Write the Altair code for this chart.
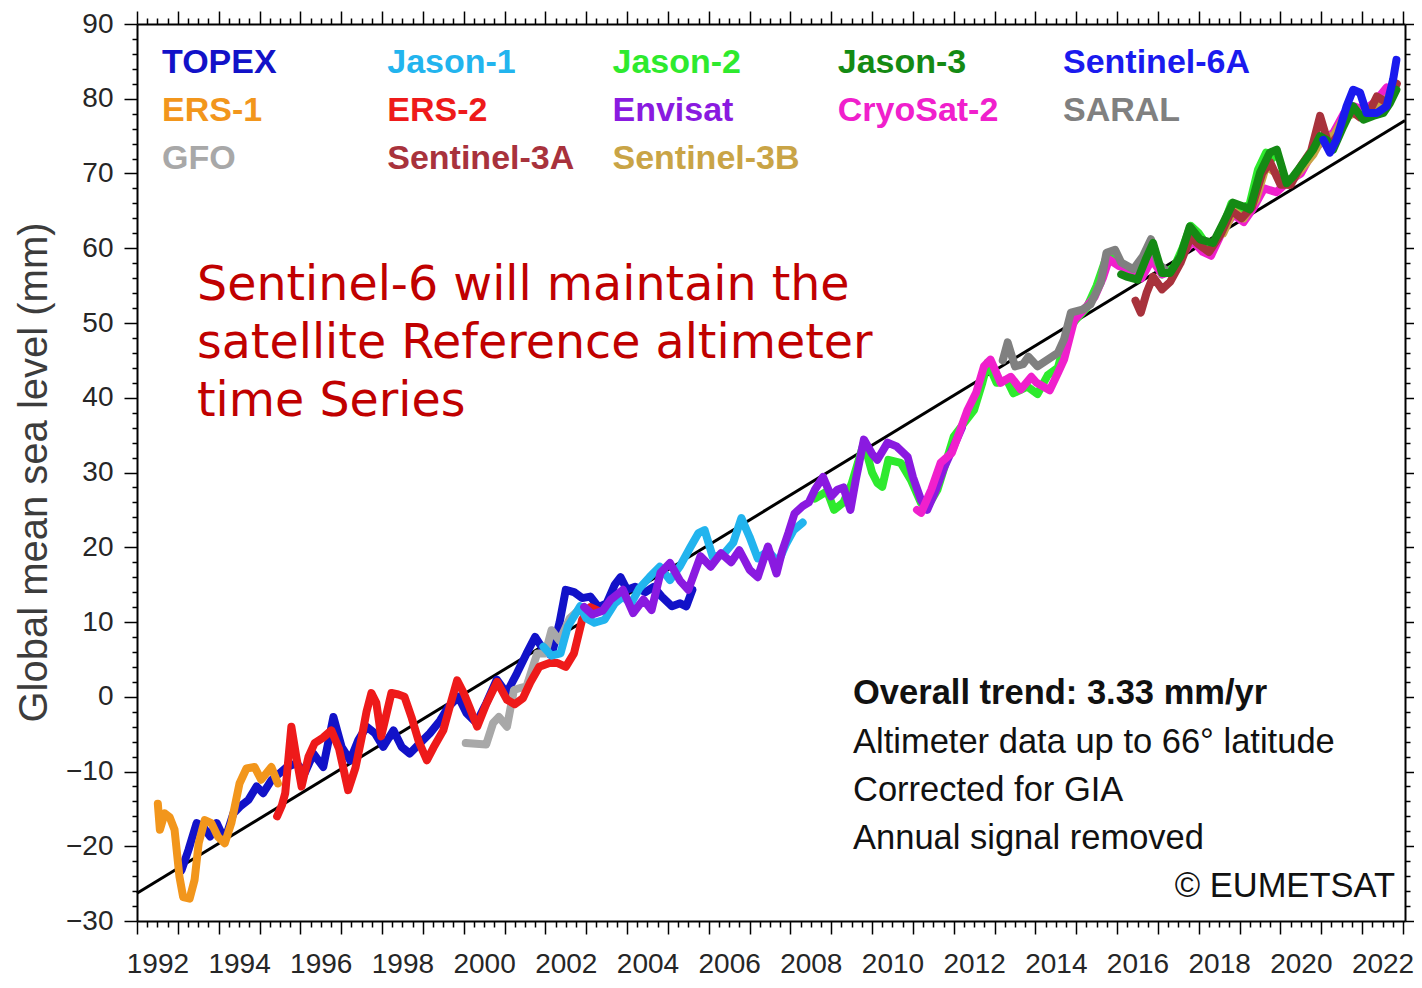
import altair as alt
import pandas as pd

# ---------------- data ----------------
TOPEX = [(1993.09, -23.2), (1993.26, -20.5), (1993.46, -16.9), (1993.62, -17.4), (1993.79, -18.7),
         (1993.95, -16.9), (1994.15, -19.2), (1994.36, -15.6), (1994.52, -14.7), (1994.73, -13.8),
         (1994.93, -12.0), (1995.09, -12.9), (1995.30, -11.1), (1995.50, -10.2), (1995.67, -9.4),
         (1995.91, -8.9), (1996.11, -10.2), (1996.32, -7.6), (1996.56, -9.4), (1996.81, -2.7),
         (1997.01, -6.7), (1997.22, -8.5), (1997.42, -5.8), (1997.62, -4.0), (1997.83, -4.9),
         (1998.03, -6.7), (1998.28, -4.5), (1998.48, -6.7), (1998.68, -7.6), (1998.93, -6.2),
         (1999.17, -4.9), (1999.42, -3.2), (1999.62, -1.4), (1999.87, 0.0), (2000.07, -2.2),
         (2000.31, -3.5), (2000.56, -0.8), (2000.81, 2.3), (2001.05, 0.5), (2001.30, 3.1),
         (2001.54, 5.8), (2001.75, 8.0), (2001.95, 6.3), (2002.15, 5.5), (2002.35, 10.0),
         (2002.50, 14.3), (2002.70, 14.0), (2002.90, 13.2), (2003.10, 13.4), (2003.30, 12.0),
         (2003.50, 12.5), (2003.70, 15.0), (2003.84, 16.0), (2004.00, 14.3), (2004.20, 14.7),
         (2004.45, 14.0), (2004.65, 14.7), (2004.85, 13.4), (2005.10, 12.1), (2005.30, 12.5),
         (2005.45, 12.1), (2005.60, 14.3)]

ERS1 = [(1992.51, -14.3), (1992.56, -17.8), (1992.68, -15.6), (1992.80, -16.1), (1992.92, -17.8),
        (1993.04, -24.1), (1993.13, -26.8), (1993.29, -27.0), (1993.41, -24.5), (1993.51, -19.6),
        (1993.66, -16.5), (1993.82, -16.9), (1993.98, -18.7), (1994.15, -19.6), (1994.31, -16.9),
        (1994.51, -11.6), (1994.68, -9.6), (1994.88, -9.4), (1995.04, -11.1), (1995.29, -9.4),
        (1995.45, -11.6)]

ERS2 = [(1995.43, -16.0), (1995.55, -14.5), (1995.63, -12.9), (1995.78, -4.0), (1995.90, -8.0),
        (1996.03, -12.0), (1996.20, -8.0), (1996.35, -6.2), (1996.55, -5.5), (1996.76, -4.5),
        (1996.95, -7.0), (1997.17, -12.5), (1997.35, -9.5), (1997.50, -5.5), (1997.62, -2.0),
        (1997.74, 0.5), (1997.86, -0.8), (1997.98, -5.3), (1998.23, 0.5), (1998.40, 0.3),
        (1998.55, 0.0), (1998.72, -2.7), (1998.90, -6.0), (1999.10, -8.5), (1999.26, -6.8),
        (1999.50, -4.5), (1999.70, -0.5), (1999.84, 2.2), (2000.00, 0.5), (2000.15, -1.5),
        (2000.33, -4.0), (2000.55, -1.0), (2000.82, 2.0), (2001.06, -0.4), (2001.25, -1.0),
        (2001.45, -0.2), (2001.63, 1.9), (2001.85, 4.0), (2002.10, 4.5), (2002.30, 4.5),
        (2002.50, 4.0), (2002.70, 5.8), (2002.90, 10.3), (2003.10, 12.0), (2003.30, 11.5)]

GFO = [(2000.05, -6.2), (2000.30, -6.3), (2000.55, -6.4), (2000.72, -3.5), (2000.86, -2.7),
       (2001.06, -4.0), (2001.23, 0.9), (2001.40, 1.2), (2001.54, 1.4), (2001.80, 5.8),
       (2002.00, 5.8), (2002.15, 8.9), (2002.35, 7.5), (2002.60, 10.5), (2002.90, 12.0),
       (2003.20, 11.6)]

JASON1 = [(2001.95, 6.7), (2002.15, 5.5), (2002.37, 5.8), (2002.55, 9.4), (2002.85, 12.1),
          (2003.00, 10.5), (2003.20, 9.9), (2003.45, 10.3), (2003.70, 12.5), (2003.90, 13.4),
          (2004.10, 12.5), (2004.30, 14.5), (2004.55, 16.0), (2004.80, 17.4), (2005.05, 15.6),
          (2005.30, 17.5), (2005.55, 20.0), (2005.75, 21.9), (2005.90, 22.3), (2006.10, 18.7),
          (2006.35, 19.0), (2006.60, 20.6), (2006.80, 23.9), (2007.00, 21.4), (2007.20, 18.5),
          (2007.45, 19.5), (2007.70, 18.0), (2007.90, 20.5), (2008.08, 22.3), (2008.30, 23.3)]

ENVISAT = [(2002.95, 12.0), (2003.15, 11.0), (2003.40, 11.5), (2003.60, 13.0), (2003.90, 14.3),
           (2004.15, 11.2), (2004.40, 13.0), (2004.60, 11.6), (2004.82, 16.6), (2005.05, 17.9),
           (2005.30, 15.5), (2005.50, 14.3), (2005.80, 18.8), (2006.05, 17.4), (2006.30, 19.2),
           (2006.55, 18.0), (2006.75, 19.6), (2007.00, 17.0), (2007.20, 16.0), (2007.45, 20.1),
           (2007.66, 16.5), (2007.80, 19.5), (2007.95, 21.9), (2008.10, 24.5), (2008.30, 25.5),
           (2008.45, 26.0), (2008.60, 27.7), (2008.80, 29.4), (2009.00, 26.8), (2009.15, 27.7),
           (2009.30, 28.0), (2009.47, 25.0), (2009.60, 29.0), (2009.80, 34.4), (2010.00, 32.5),
           (2010.13, 31.7), (2010.38, 34.0), (2010.60, 33.5), (2010.87, 32.1), (2011.00, 29.4),
           (2011.20, 26.3), (2011.35, 25.0), (2011.55, 27.5), (2011.75, 30.5), (2012.00, 33.5),
           (2012.20, 36.0)]

JASON2 = [(2008.60, 26.5), (2008.90, 27.5), (2009.07, 25.0), (2009.30, 26.0), (2009.50, 28.5),
          (2009.80, 34.0), (2010.00, 30.0), (2010.13, 28.6), (2010.25, 28.1), (2010.40, 31.7),
          (2010.70, 31.3), (2010.95, 29.0), (2011.20, 25.9), (2011.36, 25.4), (2011.60, 27.7),
          (2011.85, 32.1), (2012.00, 34.8), (2012.25, 36.6), (2012.50, 38.4), (2012.70, 42.0),
          (2012.83, 44.7), (2013.05, 42.0), (2013.30, 42.4), (2013.46, 40.6), (2013.80, 41.5),
          (2014.05, 40.5), (2014.30, 43.0), (2014.55, 44.0), (2014.80, 49.0), (2015.00, 50.5),
          (2015.25, 52.0), (2015.50, 55.0), (2015.75, 59.0), (2016.00, 58.5), (2016.25, 57.0),
          (2016.50, 57.5), (2016.85, 60.5), (2017.10, 56.5), (2017.40, 57.5), (2017.60, 60.0),
          (2017.80, 63.0), (2018.00, 62.0), (2018.25, 60.0), (2018.50, 61.5), (2018.80, 66.0),
          (2019.00, 65.0), (2019.25, 66.0), (2019.45, 70.5), (2019.65, 72.8), (2019.80, 72.0)]

CRYOSAT2 = [(2011.10, 25.0), (2011.20, 24.6), (2011.45, 27.7), (2011.68, 31.3), (2011.95, 32.6),
            (2012.10, 34.8), (2012.34, 38.4), (2012.55, 40.7), (2012.74, 44.2), (2012.90, 45.1),
            (2013.15, 42.0), (2013.40, 42.8), (2013.64, 41.1), (2013.90, 42.8), (2014.03, 42.0),
            (2014.35, 41.0), (2014.55, 43.3), (2014.70, 45.1), (2014.95, 50.4), (2015.25, 52.2),
            (2015.45, 53.5), (2015.65, 56.0), (2015.80, 58.5), (2016.05, 57.6), (2016.30, 57.2),
            (2016.60, 56.0), (2016.85, 58.5), (2017.10, 56.5), (2017.40, 57.0), (2017.65, 59.5),
            (2017.85, 61.0), (2018.10, 59.5), (2018.30, 59.0), (2018.60, 62.5), (2018.85, 64.5),
            (2019.10, 63.5), (2019.35, 65.5), (2019.60, 68.0), (2019.90, 67.5), (2020.20, 69.0),
            (2020.50, 70.0), (2020.80, 73.0), (2021.05, 74.5), (2021.30, 75.5), (2021.55, 78.0),
            (2021.80, 79.0), (2022.05, 78.5), (2022.30, 79.5), (2022.60, 81.5)]

SARAL = [(2013.20, 45.0), (2013.32, 47.4), (2013.50, 44.2), (2013.70, 44.5), (2013.83, 45.5),
         (2014.05, 44.2), (2014.30, 45.1), (2014.55, 46.0), (2014.70, 47.8), (2014.87, 51.4),
         (2015.15, 51.8), (2015.35, 52.5), (2015.60, 55.4), (2015.74, 59.4), (2015.95, 59.8),
         (2016.10, 58.1), (2016.40, 57.2), (2016.63, 58.9), (2016.83, 61.2), (2017.00, 58.0),
         (2017.20, 57.0)]

SENTINEL3A = [(2016.45, 53.0), (2016.58, 51.4), (2016.72, 54.0), (2016.88, 56.2), (2017.10, 54.5),
              (2017.30, 55.5), (2017.55, 58.0), (2017.80, 61.5), (2018.00, 60.5), (2018.25, 59.5),
              (2018.55, 62.0), (2018.80, 65.0), (2019.05, 64.0), (2019.30, 65.5), (2019.55, 70.0),
              (2019.75, 71.5), (2020.00, 68.5), (2020.25, 68.5), (2020.50, 71.0), (2020.75, 73.0),
              (2020.97, 77.7), (2021.20, 73.5), (2021.45, 75.5), (2021.70, 78.5), (2021.95, 77.5),
              (2022.20, 78.5), (2022.36, 80.3), (2022.60, 79.5), (2022.85, 82.0)]

SENTINEL3B = [(2018.60, 62.0), (2018.85, 65.0), (2019.10, 64.0), (2019.40, 66.5), (2019.65, 71.0),
              (2019.90, 70.0), (2020.20, 68.5), (2020.50, 70.5), (2020.80, 72.5), (2021.05, 75.0),
              (2021.30, 75.0), (2021.55, 77.5), (2021.80, 78.0), (2022.10, 78.0), (2022.40, 79.0),
              (2022.70, 80.5)]

JASON3 = [(2016.10, 56.5), (2016.23, 56.2), (2016.50, 55.8), (2016.70, 58.5), (2016.88, 60.7),
          (2017.10, 56.7), (2017.30, 56.7), (2017.55, 58.9), (2017.78, 62.9), (2018.03, 61.2),
          (2018.35, 60.7), (2018.60, 63.4), (2018.84, 66.1), (2019.09, 65.6), (2019.25, 65.2),
          (2019.50, 70.1), (2019.74, 72.8), (2019.91, 73.2), (2020.15, 68.7), (2020.31, 69.6),
          (2020.56, 71.4), (2020.80, 73.2), (2020.97, 75.0), (2021.13, 74.5), (2021.29, 73.2),
          (2021.54, 76.3), (2021.78, 79.0), (2022.03, 77.2), (2022.27, 77.7), (2022.52, 78.1),
          (2022.68, 79.4), (2022.84, 81.2)]

SENTINEL6A = [(2021.05, 74.5), (2021.21, 72.8), (2021.37, 74.5), (2021.62, 79.0), (2021.78, 81.2),
              (2021.95, 80.8), (2022.11, 78.1), (2022.36, 78.1), (2022.60, 79.0), (2022.76, 82.6),
              (2022.84, 85.2)]

TREND = [(1992.0, -26.3), (2023.05, 77.1)]

SERIES = {
    "TOPEX": TOPEX, "ERS-1": ERS1, "ERS-2": ERS2, "GFO": GFO, "Jason-1": JASON1,
    "Envisat": ENVISAT, "Jason-2": JASON2, "CryoSat-2": CRYOSAT2, "SARAL": SARAL,
    "Sentinel-3A": SENTINEL3A, "Sentinel-3B": SENTINEL3B, "Jason-3": JASON3,
    "Sentinel-6A": SENTINEL6A,
}
COLORS = {
    "TOPEX": "#1212c8", "Jason-1": "#22b4ee", "Jason-2": "#2eea2e", "Jason-3": "#148a14",
    "Sentinel-6A": "#1a1aee", "ERS-1": "#f2961c", "ERS-2": "#ee1a1a", "Envisat": "#8a1ae0",
    "CryoSat-2": "#f020cc", "SARAL": "#808080", "GFO": "#a8a8a8", "Sentinel-3A": "#a8323c",
    "Sentinel-3B": "#c9a446",
}
DRAW_ORDER = ["TOPEX", "GFO", "ERS-1", "ERS-2", "Jason-1", "Jason-2", "Envisat", "CryoSat-2",
              "SARAL", "Sentinel-3B", "Sentinel-3A", "Jason-3", "Sentinel-6A"]
LEGEND_ORDER = ["TOPEX", "Jason-1", "Jason-2", "Jason-3", "Sentinel-6A",
                "ERS-1", "ERS-2", "Envisat", "CryoSat-2", "SARAL",
                "GFO", "Sentinel-3A", "Sentinel-3B"]

RED_NOTE = "Sentinel-6 will maintain the\nsatellite Reference altimeter\ntime Series"
INFO_BOLD = "Overall trend: 3.33 mm/yr"
INFO_LINES = "Altimeter data up to 66\u00b0 latitude\nCorrected for GIA\nAnnual signal removed"
COPYRIGHT = "\u00a9 EUMETSAT"
Y_TITLE = "Global mean sea level (mm)"

X_TICKS = [1992 + 0.25 * k for k in range(125)]
Y_TICKS = list(range(-30, 91, 2))

# ---------------- tables ----------------
rows = []
for name, pts in SERIES.items():
    for t, v in pts:
        rows.append({"series": name, "t": t, "v": v})
df = pd.DataFrame(rows)
trend_df = pd.DataFrame(TREND, columns=["t", "v"])
legend_df = pd.DataFrame({
    "name": LEGEND_ORDER,
    "color": [COLORS[n] for n in LEGEND_ORDER],
    "col": [i % 5 for i in range(len(LEGEND_ORDER))],
    "row": [i // 5 for i in range(len(LEGEND_ORDER))],
})

FONT = "Liberation Sans, Arial, Helvetica, sans-serif"

xscale = alt.Scale(domain=[1992, 2023.05], nice=False, zero=False)
yscale = alt.Scale(domain=[-30, 90], nice=False, zero=False)


def xaxis(orient, labels):
    return alt.Axis(
        orient=orient, values=X_TICKS, labels=labels, grid=False, title=None,
        labelExpr="datum.value % 2 === 0 ? format(datum.value, 'd') : ''",
        labelOffset=20.4, labelFlush=False, labelOverlap=False, labelBound=False,
        labelFont=FONT, labelFontSize=28, labelColor="#262626", labelPadding=16,
        tickSize={"condition": {"test": "datum.value % 1 === 0", "value": 13}, "value": 6},
        tickColor="black", tickWidth=1.5, domainColor="black", domainWidth=2,
    )


def yaxis(orient, labels, title=None):
    if title:
        kw = dict(title=title, titleFont=FONT, titleFontSize=40,
                  titleFontWeight="normal", titleColor="#3c3c3c", titleAngle=270,
                  titleX=-103, titleY=448, titleBaseline="middle", titleAlign="center")
    else:
        kw = dict(title=None)
    return alt.Axis(
        orient=orient, values=Y_TICKS, labels=labels, grid=False,
        labelExpr="datum.value % 10 === 0 ? format(datum.value, 'd') : ''",
        labelFlush=False, labelOverlap=False, labelBound=False,
        labelFont=FONT, labelFontSize=28, labelColor="#262626", labelPadding=11,
        tickSize={"condition": {"test": "datum.value % 10 === 0", "value": 13}, "value": 5},
        tickColor="black", tickWidth=1.5, domainColor="black", domainWidth=2,
        **kw,
    )


trend = alt.Chart(trend_df).mark_line(color="black", strokeWidth=3).encode(
    x=alt.X("t:Q", scale=xscale, axis=xaxis("bottom", True)),
    y=alt.Y("v:Q", scale=yscale, axis=yaxis("left", True, Y_TITLE)),
)

series_layers = []
for i, name in enumerate(DRAW_ORDER):
    if i == 0:
        ax_x, ax_y = xaxis("top", False), yaxis("right", False)
    else:
        ax_x, ax_y = None, None
    series_layers.append(
        alt.Chart(df).transform_filter(alt.datum.series == name)
        .mark_line(color=COLORS[name], strokeWidth=8, strokeJoin="round", strokeCap="round")
        .encode(
            x=alt.X("t:Q", scale=xscale, axis=ax_x),
            y=alt.Y("v:Q", scale=yscale, axis=ax_y),
            order="t:Q",
        )
    )

red_note = alt.Chart(pd.DataFrame({"txt": [RED_NOTE]})).mark_text(
    align="left", baseline="alphabetic", font="DejaVu Sans", fontSize=47.5,
    color="#c00000", lineBreak="\n", lineHeight=58,
).encode(text="txt:N", x=alt.value(60), y=alt.value(276))

info_bold = alt.Chart(pd.DataFrame({"txt": [INFO_BOLD]})).mark_text(
    align="left", baseline="alphabetic", font=FONT, fontSize=34.5, fontWeight="bold",
    color="#111111",
).encode(text="txt:N", x=alt.value(716), y=alt.value(680))

info_lines = alt.Chart(pd.DataFrame({"txt": [INFO_LINES]})).mark_text(
    align="left", baseline="alphabetic", font=FONT, fontSize=34.5, color="#111111",
    lineBreak="\n", lineHeight=48,
).encode(text="txt:N", x=alt.value(716), y=alt.value(729))

copyright_ = alt.Chart(pd.DataFrame({"txt": [COPYRIGHT]})).mark_text(
    align="right", baseline="alphabetic", font=FONT, fontSize=34.5, color="#111111",
).encode(text="txt:N", x=alt.value(1258), y=alt.value(873))

main = alt.layer(trend, *series_layers, red_note, info_bold, info_lines, copyright_).resolve_axis(
    x="independent", y="independent"
)

legend = alt.Chart(legend_df).mark_text(
    align="left", baseline="middle", font=FONT, fontSize=34, fontWeight="bold",
).encode(
    x=alt.X("col:Q", scale=alt.Scale(domain=[0, 4], range=[25, 926]), axis=None),
    y=alt.Y("row:Q", scale=alt.Scale(domain=[0, 2], range=[38.5, 134.5]), axis=None),
    text="name:N",
    color=alt.Color("color:N", scale=None),
)

chart = alt.layer(main, legend).resolve_scale(x="independent", y="independent").properties(
    width=1268, height=897,
    autosize=alt.AutoSizeParams(type="none"),
    padding={"left": 129, "top": 16, "right": 9, "bottom": 58},
    background="white",
).configure_view(strokeWidth=0)

chart.save("out.html", embed_options={"renderer": "svg", "actions": False})
